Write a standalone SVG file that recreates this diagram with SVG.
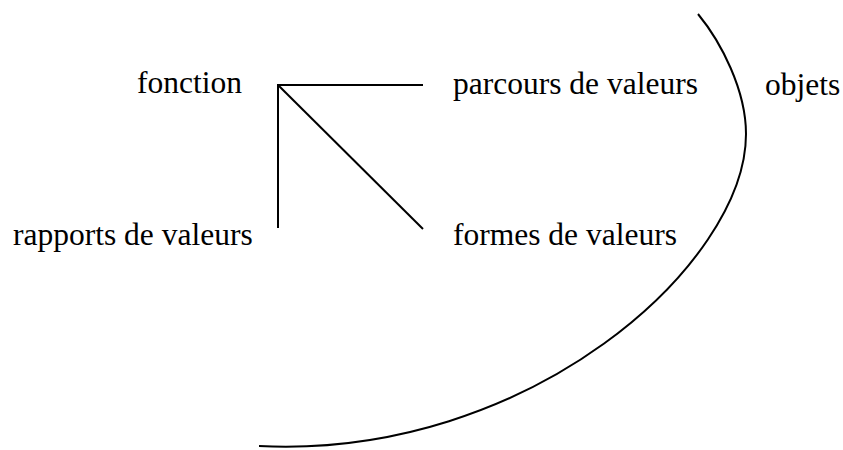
<svg xmlns="http://www.w3.org/2000/svg" width="843" height="450" viewBox="0 0 843 450">
  <style>
    .lbl { font-family: "Liberation Serif", "Times New Roman", "DejaVu Serif", serif; font-size: 31.5px; fill: #000; }
    .ln { stroke: #000; stroke-width: 2; fill: none; }
  </style>
  <rect width="843" height="450" fill="#fff"/>
  <g id="connectors">
    <line class="ln" x1="278" y1="85" x2="423" y2="85"/>
    <line class="ln" x1="278" y1="84" x2="278" y2="228"/>
    <line class="ln" x1="278" y1="85" x2="423" y2="229"/>
    <path class="ln" d="M698,14 C721,42 746,90 746,134 C746,264 529,459.5 259,446"/>
  </g>
  <g id="fonction"><text class="lbl" x="137" y="93">fonction</text></g>
  <g id="parcours"><text class="lbl" x="453" y="94">parcours de valeurs</text></g>
  <g id="objets"><text class="lbl" x="765" y="95">objets</text></g>
  <g id="rapports"><text class="lbl" x="13" y="245">rapports de valeurs</text></g>
  <g id="formes"><text class="lbl" x="453" y="245">formes de valeurs</text></g>
</svg>
